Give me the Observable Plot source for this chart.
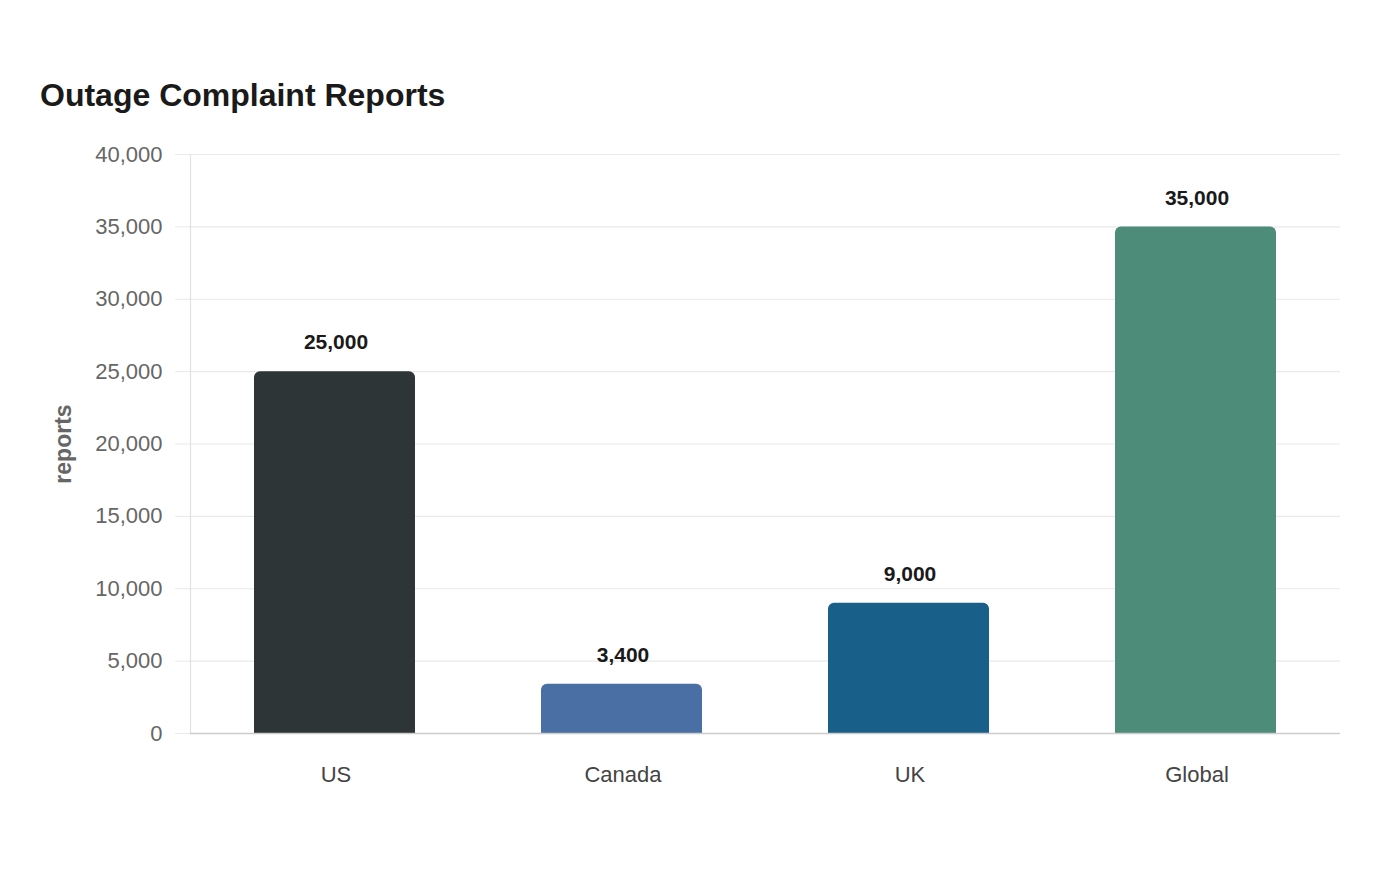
<!DOCTYPE html>
<html>
<head>
<meta charset="utf-8">
<script src="https://cdn.jsdelivr.net/npm/d3@7"></script>
<script src="https://cdn.jsdelivr.net/npm/@observablehq/plot@0.6"></script>
<style>
  html, body { margin: 0; padding: 0; background: #fff; }
  body { width: 1400px; height: 880px; position: relative; font-family: "Liberation Sans", Arial, sans-serif; }
  #title { position: absolute; left: 40px; top: 75px; font-size: 32px; font-weight: bold; color: #1a1a1a; line-height: 40px; white-space: nowrap; }
  #chart { position: absolute; left: 0; top: 130px; }
</style>
</head>
<body>
<div id="title">Outage Complaint Reports</div>
<div id="chart"></div>
<script>
const regions = ["US", "Canada", "UK", "Global"];
const reports = [25000, 3400, 9000, 35000];
const colors = ["#2d3537", "#4a6fa5", "#186089", "#4e8c7a"];
const yTicks = [0, 5000, 10000, 15000, 20000, 25000, 30000, 35000, 40000];
const yLabel = "reports";

const data = regions.map((r, i) => ({region: r, reports: reports[i], color: colors[i]}));
const fmt = d3.format(",");

const chart = Plot.plot({
  width: 1400,
  height: 690,
  marginTop: 24,
  marginBottom: 87,
  marginLeft: 190,
  marginRight: 60,
  style: {fontFamily: '"Liberation Sans", Arial, sans-serif', fontSize: "22px", background: "#fff"},
  x: {domain: regions, paddingInner: 0.44, paddingOuter: 0.22, label: null},
  y: {domain: [0, 40000], label: null},
  marks: [
    Plot.ruleY(yTicks, {stroke: "#e9e9e9", strokeWidth: 1.2}),
    Plot.axisY({ticks: yTicks, tickSize: 15, tickPadding: 13, stroke: "#e9e9e9", fill: "#666", tickFormat: fmt, fontSize: 22, label: null}),
    Plot.frame({anchor: "left", stroke: "#e2e2e2", strokeWidth: 1.2}),
    Plot.barY(data, {x: "region", y: "reports", fill: "color", ry1: 6, rx: 0}),
    Plot.ruleY([0], {stroke: "#cccccc", strokeWidth: 1.5}),
    Plot.axisX({tickSize: 0, tickPadding: 33, fill: "#444", fontSize: 22, label: null, dx: 1}),
    Plot.text(data, {x: "region", y: "reports", text: d => fmt(d.reports), dy: -29, dx: 1, lineAnchor: "middle", fontWeight: "bold", fontSize: 21, fill: "#1a1a1a"}),
    Plot.text([yLabel], {frameAnchor: "left", dx: -127, rotate: -90, textAnchor: "middle", lineAnchor: "middle", fontWeight: "bold", fontSize: 23, fill: "#666"})
  ]
});
document.getElementById("chart").appendChild(chart);
</script>
</body>
</html>
